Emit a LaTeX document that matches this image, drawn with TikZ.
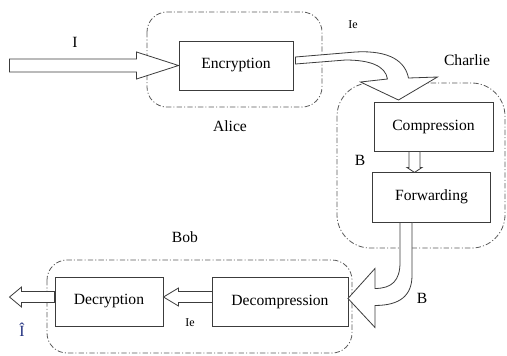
\documentclass[tikz,border=0pt]{standalone}
\usepackage{fontspec}
\setmainfont{Liberation Serif}
\usepackage{tikz}
\usetikzlibrary{calc}
\usepackage{xcolor}
\definecolor{boxline}{RGB}{60, 60, 60}
\definecolor{grpline}{RGB}{90, 90, 90}
\definecolor{hatblue}{RGB}{30, 45, 125}

\begin{document}
\begin{tikzpicture}[x=0.75pt, y=-0.75pt,
				stage/.style={draw=boxline, line width=0.7pt, minimum height=36.75pt,
					inner sep=0pt, font=\fontsize{11.7}{14}\selectfont},
				party/.style={draw=grpline, line width=0.6pt,
					dash pattern=on 4pt off 1.6pt on 0.8pt off 1.6pt},
				blockarr/.style={draw=boxline, line width=0.6pt, fill=white, line join=miter},
				lbl/.style={inner sep=0pt, font=\fontsize{11.7}{14}\selectfont},
				smalllbl/.style={inner sep=0pt, font=\fontsize{9}{11}\selectfont}
				]
				\useasboundingbox (0,0) rectangle (507,355);
				\draw[party, rounded corners=15] (147,12) rectangle (322,107);
				\draw[party, rounded corners=25] (337,83) rectangle (505,248);
				\draw[party, rounded corners=15] (47,260) rectangle (352,353);
				\node[stage, minimum width=85.5pt] (enc) at (236,65.5) {Encryption};
				\node[stage, minimum width=89.25pt] (comp) at (433.5,126.5) {Compression};
				\node[stage, minimum width=88.5pt, minimum height=37.5pt] (fwd) at (431.5,197) {Forwarding};
				\node[stage, minimum width=102pt] (decomp) at (280,301.5) {Decompression};
				\node[stage, minimum width=81pt] (decr) at (109,301.5) {Decryption};
				\draw[blockarr, shift={(enc.west)}] (-169,-6.5) -- (-42,-6.5) -- (-42,-13.5)
				-- (0,0) -- (-42,13.5) -- (-42,6.5) -- (-169,6.5) -- cycle;
				\draw[blockarr, shift={(enc.east)}] (2,-8.5) -- (62,-13.5)
				.. controls (97,-15.5) and (112,-3.5) .. (115,12.5) -- (144,11.5)
				-- (105,34.5) -- (67,16.5) -- (94,13.5)
				.. controls (92,0.5) and (77,-5.5) .. (52,-5.5) -- (2,-1.5) -- cycle;
				\draw[blockarr, shift={(comp.south)}] (-24.5,0) -- (-24.5,16) -- (-26.5,16)
				-- (-19,21) -- (-11.5,16) -- (-13.5,16) -- (-13.5,0) -- cycle;
				\draw[blockarr, shift={(fwd.south)}] (-31.5,0) -- (-31.5,40)
				.. controls (-31.5,58) and (-39.5,66) .. (-56.5,66) -- (-56.5,46)
				-- (-83.5,76) -- (-56.5,105) -- (-56.5,83)
				.. controls (-31.5,83) and (-19.5,73) .. (-19.5,53) -- (-19.5,0) -- cycle;
				\draw[blockarr, shift={(decr.east)}] (49,-10) -- (15,-10) -- (15,-13.5)
				-- (0,-4.5) -- (15,4.5) -- (15,1) -- (49,1) -- cycle;
				\draw[blockarr, shift={(decr.west)}] (0,-10) -- (-33,-10) -- (-33,-14.5)
				-- (-45,-4.5) -- (-33,5.5) -- (-33,1) -- (0,1) -- cycle;
				\node[lbl] (inlbl) at (75,42) {I};
				\node[lbl] (alice) at (230,126) {Alice};
				\node[smalllbl] (ielbl) at (353,25) {Ie};
				\node[lbl] (charlie) at (467,60) {Charlie};
				\node[lbl] (blbl) at (360,160) {B};
				\node[lbl] (bob) at (185,237) {Bob};
				\node[lbl] (blbltwo) at (422,298) {B};
				\node[smalllbl] (ielbltwo) at (190,323) {Ie};
				\node[lbl, text=hatblue] (outlbl) at (22,330) {Î};
			\end{tikzpicture}
\end{document}
